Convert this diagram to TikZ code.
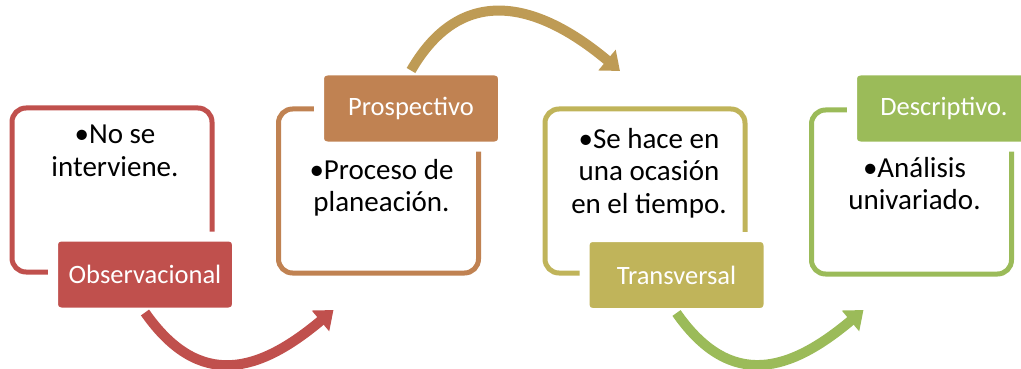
\documentclass[tikz,border=0pt]{standalone}
\usepackage{fontspec}
\setmainfont{Carlito}
\usepackage{tikz}
\usetikzlibrary{arrows.meta, positioning, calc}
\definecolor{obsred}{RGB}{192,80,77}
\definecolor{prosbrown}{RGB}{192,130,82}
\definecolor{arcgold}{RGB}{190,155,85}
\definecolor{transolive}{RGB}{192,180,90}
\definecolor{descgreen}{RGB}{155,187,89}
\tikzstyle{panel} = [rectangle, rounded corners=14pt, line width=5pt, minimum width=200pt, minimum height=164pt, inner sep=0pt, outer sep=0pt]
\tikzstyle{tagbox} = [rectangle, rounded corners=8pt, draw=white, line width=10pt, outer sep=0pt, minimum width=184pt, minimum height=76pt, text=white, font=\fontsize{26.5}{30}\selectfont]
\tikzstyle{bodytext} = [align=center, inner sep=0pt, anchor=north, font=\fontsize{29}{32.5}\selectfont]
\tikzstyle{flow} = [line width=10pt, -{Triangle[length=17pt,width=26pt]}, looseness=1.3]

\begin{document}
\begin{tikzpicture}[x=1pt,y=1pt]
\useasboundingbox (0,0) rectangle (1021,-369);

\node[panel, draw=obsred] (box1) at (112,-190) {};
\node[panel, draw=prosbrown] (box2) at (378.5,-191) {};
\node[panel, draw=transolive] (box3) at (645,-191) {};
\node[panel, draw=descgreen] (box4) at (911.5,-192) {};

\node[bodytext] (txt1) at ([xshift=3pt,yshift=-17pt]box1.north) {•No se\\interviene.};
\node[bodytext] (txt2) at ([xshift=3pt,yshift=-50pt]box2.north) {•Proceso de\\planeación.};
\node[bodytext] (txt3) at ([xshift=4pt,yshift=-19pt]box3.north) {•Se hace en\\una ocasión\\en el tiempo.};
\node[bodytext] (txt4) at ([xshift=3pt,yshift=-47pt]box4.north) {•Análisis\\univariado.};

\node[tagbox, fill=obsred] (obs) at ([xshift=33pt,yshift=-84.5pt]box1.center) {Observacional};
\node[tagbox, fill=prosbrown] (pros) at ([xshift=32.5pt,yshift=82.5pt]box2.center) {Prospectivo};
\node[tagbox, fill=transolive] (trans) at ([xshift=31.5pt,yshift=-84pt]box3.center) {Transversal};
\node[tagbox, fill=descgreen] (desc) at ([xshift=32.5pt,yshift=83.5pt]box4.center) {Descriptivo.};

\coordinate (arc1end) at ([xshift=55pt,yshift=-37pt]box2.south west);
\coordinate (arc2end) at ([xshift=75pt,yshift=38pt]box3.north west);
\coordinate (arc3end) at ([xshift=52pt,yshift=-36pt]box4.south west);

\draw[flow, obsred] (obs.south) to[out=-55,in=220] (arc1end);
\draw[flow, arcgold, looseness=1.27] (pros.north) to[out=60,in=140] (arc2end);
\draw[flow, descgreen] (trans.south) to[out=-55,in=220] (arc3end);
\end{tikzpicture}
\end{document}
